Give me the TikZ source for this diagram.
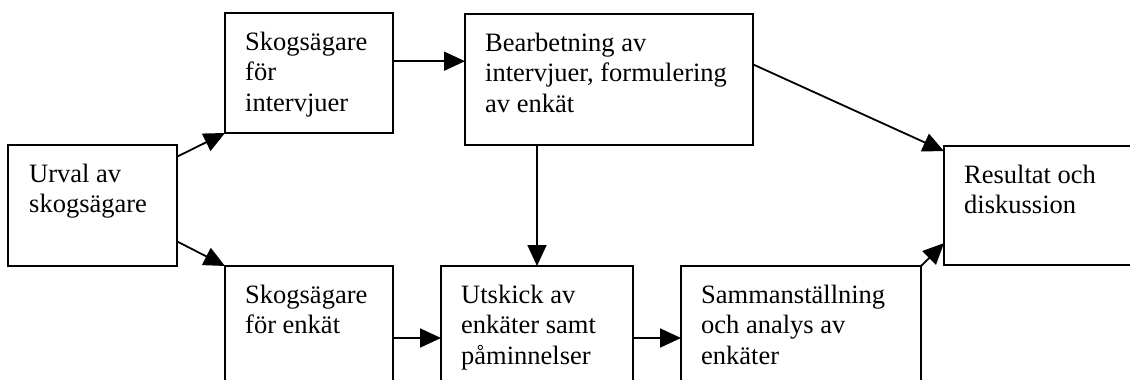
\documentclass[tikz,border=0pt]{standalone}
\usepackage{fontspec}
\setmainfont{Liberation Serif}
\usetikzlibrary{arrows.meta}
\tikzset{
  box/.style={draw, line width=1.8pt, outer sep=0pt, inner sep=0pt, anchor=north west},
  lbl/.style={anchor=north west, inner sep=0pt, align=left, font=\fontsize{26.5}{30.5}\selectfont},
  arr/.style={line width=1.8pt, -{Triangle[length=21pt,width=19pt]}}
}
\begin{document}
\begin{tikzpicture}[x=1pt,y=1pt,yscale=-1,xscale=1]
\useasboundingbox (0,0) rectangle (1130,380);
\clip (0,0) rectangle (1130,380);

%Boxes
\node[box, minimum width=169pt, minimum height=121pt] (urval) at (8,145) {};
\node[box, minimum width=168pt, minimum height=120pt] (intervju) at (225,13) {};
\node[box, minimum width=288pt, minimum height=131pt] (bearb) at (465,14) {};
\node[box, minimum width=196pt, minimum height=119pt] (result) at (944,146) {};
\node[box, minimum width=168pt, minimum height=144pt] (enkat) at (225,266) {};
\node[box, minimum width=192pt, minimum height=144pt] (utskick) at (441,266) {};
\node[box, minimum width=240pt, minimum height=144pt] (samman) at (681,266) {};

%Texts
\node[lbl] at (29,163.5) {Urval av\\skogsägare};
\node[lbl] at (245,31.5) {Skogsägare\\för\\intervjuer};
\node[lbl] at (485,32.5) {Bearbetning av\\intervjuer, formulering\\av enkät};
\node[lbl] at (964,164.5) {Resultat och\\diskussion};
\node[lbl] at (245,284.5) {Skogsägare\\för enkät};
\node[lbl] at (461,284.5) {Utskick av\\enkäter samt\\påminnelser};
\node[lbl] at (701,284.5) {Sammanställning\\och analys av\\enkäter};

%Arrows
\draw[arr] (urval.30.4) -- (intervju.south west);
\draw[arr] (urval.-23.4) -- (enkat.north west);
\draw[arr] (intervju.8.1) -- (intervju.8.1 -| bearb.west);
\draw[arr] (bearb.6.9) -- (result.151.4);
\draw[arr] (bearb.south -| utskick.north) -- (utskick.north);
\draw[arr] (enkat.east) -- (utskick.west);
\draw[arr] (utskick.east) -- (samman.west);
\draw[arr] (samman.north east) -- (result.-159.1);

\end{tikzpicture}
\end{document}
